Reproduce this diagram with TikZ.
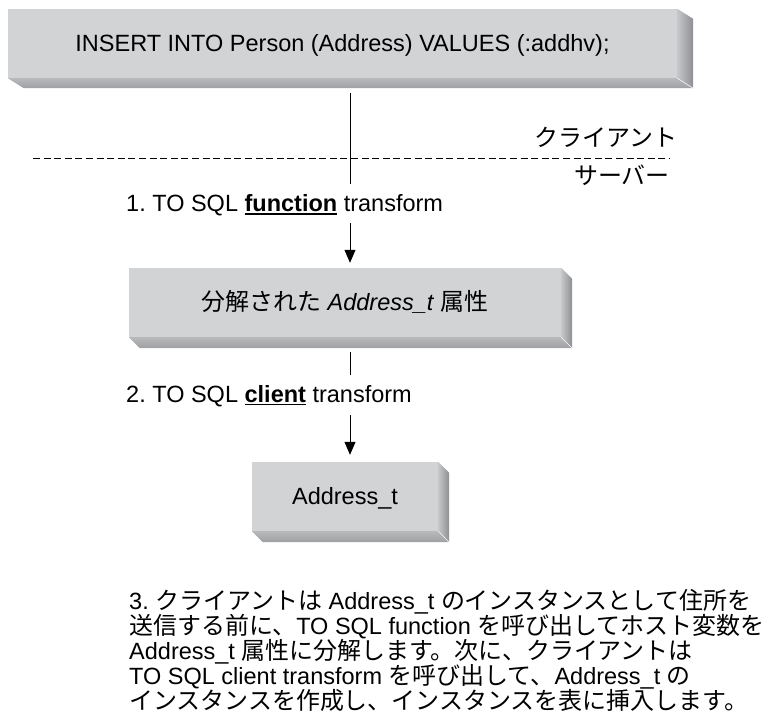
\documentclass[tikz,border=0pt]{standalone}
\usepackage{fontspec}
\setmainfont{Liberation Sans}
\newfontfamily\jpfont{Noto Sans CJK JP}[Scale=1.02]
\newcommand\jt[1]{{\jpfont #1}}
% bold word with a heavy underline
\newcommand\ulbold[1]{\setbox0\hbox{\bfseries #1}\rlap{\rule[-3pt]{\wd0}{1.5pt}}\box0\relax}
\usetikzlibrary{calc,arrows.meta}

\definecolor{facegray}{HTML}{D2D3D5}
\definecolor{sideA}{HTML}{C6C7C9}
\definecolor{sideB}{HTML}{8E8F92}
\definecolor{baseA}{HTML}{B8B9BB}
\definecolor{baseB}{HTML}{9FA0A3}

% extruded edges (right and bottom) of a box face
\newcommand\bevel[3]{%
  \shade[left color=sideA, right color=sideB]
    (#1.north east) -- ++(#2,#3) -- ($(#1.south east)+(#2,#3)$) -- (#1.south east) -- cycle;
  \shade[top color=baseA, bottom color=baseB]
    (#1.south west) -- ++(#2,#3) -- ($(#1.south east)+(#2,#3)$) -- (#1.south east) -- cycle;
  \draw[white!75!facegray, line width=0.6pt] (#1.south east) -- ++(#2,#3);
}

\begin{document}
\begin{tikzpicture}[x=1pt, y=-1pt,
    every node/.style={inner sep=0pt, font=\fontsize{23.5}{25}\selectfont\frenchspacing},
    facebox/.style={fill=facegray, draw=none, minimum height=69pt,
                    text height=16.8pt, text depth=0pt},
    conn/.style={line width=1pt},
    arrowline/.style={line width=1pt, -{Triangle[length=13pt,width=11pt]}},
    divider/.style={line width=0.9pt, dash pattern=on 7pt off 3.6pt}]
\useasboundingbox (0,0) rectangle (765,719);

% boxes
\node[facebox, minimum width=669pt] (sql) at (342.5,43.5)
  {INSERT INTO Person (Address) VALUES (:addhv);};
\bevel{sql}{16}{10}

\node[facebox, minimum width=432pt] (attrs) at (345,302.5)
  {\jt{分解された} \textit{Address\_t} \jt{属性}};
\bevel{attrs}{11}{11}

\node[facebox, minimum width=186pt] (addr) at (345,496.5) {Address\_t};
\bevel{addr}{11}{11}

% client / server divider
\coordinate (dl) at (33,158);
\coordinate (dr) at (670,158);
\draw[divider] (dl) -- (dr);
\node[anchor=base east] (client) at (678,147) {\jt{クライアント}};
\node[anchor=base east] (server) at (670,185) {\jt{サーバー}};

% step 1
\coordinate (cut1) at (350,184);
\draw[conn] ($(sql.south -| cut1)+(0,15)$) -- (cut1);
\node[anchor=base west] (step1) at (126,212)
  {1. TO SQL \ulbold{function} transform};
\coordinate (a1) at (350,223);
\draw[arrowline] (a1) -- ($(attrs.north -| a1)+(0,-5)$);

% step 2
\coordinate (cut2) at (350,375);
\draw[conn] ($(attrs.south -| cut2)+(0,15)$) -- (cut2);
\node[anchor=base west] (step2) at (126,402)
  {2. TO SQL \ulbold{client} transform};
\coordinate (a2) at (350,415);
\draw[arrowline] (a2) -- ($(addr.north -| a2)+(0,-7)$);

% step 3 description
\node[anchor=base west] (p1) at (129,609)
  {3. \jt{クライアントは} Address\_t \jt{のインスタンスとして住所を}};
\node[anchor=base west] (p2) at (129,634)
  {\jt{送信する前に、}TO SQL function \jt{を呼び出してホスト変数を}};
\node[anchor=base west] (p3) at (129,659)
  {Address\_t \jt{属性に分解します。次に、クライアントは}};
\node[anchor=base west] (p4) at (129,684)
  {TO SQL client transform \jt{を呼び出して、}Address\_t \jt{の}};
\node[anchor=base west] (p5) at (129,709)
  {\jt{インスタンスを作成し、インスタンスを表に挿入します。}};
\end{tikzpicture}
\end{document}
